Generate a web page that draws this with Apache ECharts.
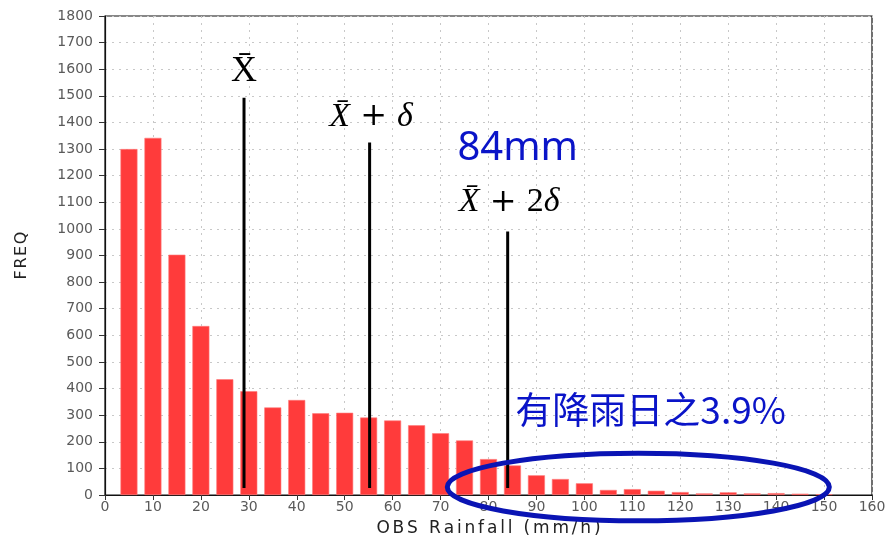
<!DOCTYPE html>
<html><head><meta charset="utf-8">
<script src="https://cdn.jsdelivr.net/npm/echarts@6/dist/echarts.min.js"></script>
<style>html,body{margin:0;padding:0;background:#fff}#c{width:890px;height:542px}</style>
</head><body><div id="c"></div>
<script>
var binCenters = [5,10,15,20,25,30,35,40,45,50,55,60,65,70,75,80,85,90,95,100,105,110,115,120,125,130,135,140,145,150];
var freq = [1300,1342,903,635,435,390,329,357,307,309,291,280,262,232,205,135,111,74,60,44,19,22,16,11,6,10,6,7,5,3];
var xTicks = [0,10,20,30,40,50,60,70,80,90,100,110,120,130,140,150,160];
var yTicks = [0,100,200,300,400,500,600,700,800,900,1000,1100,1200,1300,1400,1500,1600,1700,1800];
var refLines = [
  {x: 29, top: 1493, label: '{u|X\u0304}', labelY: 1590},
  {x: 55.2, top: 1325, label: '{i|X\u0304}{p| + }{i|\u03b4}', labelY: 1420},
  {x: 84, top: 990, label: '{i|X\u0304}{p| + }{u|2}{i|\u03b4}', labelY: 1100}
];
var lineBottom = 26;

var chart = echarts.init(document.getElementById('c'), null, {renderer: 'canvas'});
var series = [{
  type: 'bar',
  data: binCenters.map(function(x, i){ return [x, freq[i]]; }),
  barWidth: 17,
  itemStyle: {color: '#ff3b3b', borderColor: '#ff7a7a', borderWidth: 0.6},
  z: 2
}];
refLines.forEach(function(r){
  series.push({
    type: 'line', data: [[r.x, lineBottom], [r.x, r.top]],
    symbol: 'none', lineStyle: {color: '#000', width: 3}, z: 5, silent: true
  });
});
var labelFont = 'DejaVu Sans, sans-serif';
function spaced(s, sp){ return s.split('').join(sp); }
chart.setOption({
  animation: false,
  grid: {left: 105, right: 18, top: 16, bottom: 45, show: true, borderColor: '#111', borderWidth: 1.2, backgroundColor: '#fff'},
  xAxis: {
    type: 'value', min: 0, max: 160, interval: 10,
    name: spaced('OBS Rainfall (mm/h)', '\u2006'), nameLocation: 'middle', nameGap: 25,
    nameTextStyle: {fontFamily: labelFont, fontSize: 17, color: '#222'},
    axisLine: {onZero: false, lineStyle: {color: '#111', width: 1.2}},
    axisTick: {show: true, length: 5, lineStyle: {color: '#333'}},
    axisLabel: {fontFamily: labelFont, fontSize: 14, color: '#5a5a5a', margin: 5},
    splitLine: {show: true, lineStyle: {color: '#c8c8c8', type: [2, 5], width: 1}}
  },
  yAxis: {
    type: 'value', min: 0, max: 1800, interval: 100,
    name: spaced('FREQ', '\u200a'), nameLocation: 'middle', nameGap: 75,
    nameTextStyle: {fontFamily: labelFont, fontSize: 16, color: '#222'},
    axisLine: {show: true, lineStyle: {color: '#111', width: 1.2}},
    axisTick: {show: true, length: 6, lineStyle: {color: '#333'}},
    axisLabel: {fontFamily: labelFont, fontSize: 14, color: '#5a5a5a', margin: 12,
      formatter: function(v){ return String(v); }},
    splitLine: {show: true, lineStyle: {color: '#c8c8c8', type: [2, 5], width: 1}}
  },
  series: series
});

function px(x, y){ return chart.convertToPixel({gridIndex: 0}, [x, y]); }
var serif = '"Liberation Serif", "DejaVu Serif", serif';
var g = [];
refLines.forEach(function(r, i){
  var p = px(r.x + (i === 0 ? 0 : 0.3), r.labelY);
  var fs = i === 0 ? 36 : 34;
  g.push({type: 'text', x: p[0], y: p[1], z: 10, style: {
    text: r.label, align: 'center', verticalAlign: 'middle',
    rich: {
      u: {fontFamily: serif, fontSize: fs, fill: '#000'},
      i: {fontFamily: serif, fontSize: fs, fontStyle: 'italic', fill: '#000'},
      p: {fontFamily: '"DejaVu Serif", serif', fontSize: fs - 2, fill: '#000'}
    }
  }});
});
var p84 = px(86.1, 1300);
g.push({type: 'text', x: p84[0], y: p84[1], z: 10, style: {
  text: '84mm', fill: '#0a14c8', align: 'center', verticalAlign: 'middle',
  font: '40px "Noto Sans", sans-serif'
}});
var pPct = px(85.6, 318);
g.push({type: 'text', x: pPct[0], y: pPct[1], z: 10, style: {
  text: '有降雨日之3.9%', fill: '#0a14c8', align: 'left', verticalAlign: 'middle',
  font: '37px "Noto Sans CJK TC", "Noto Sans", sans-serif'
}});
var e1 = px(71.4, 157), e2 = px(151.1, -97);
g.push({type: 'ellipse', z: 11, shape: {
  cx: (e1[0] + e2[0]) / 2, cy: (e1[1] + e2[1]) / 2,
  rx: Math.abs(e2[0] - e1[0]) / 2, ry: Math.abs(e2[1] - e1[1]) / 2
}, style: {fill: 'none', stroke: '#0a14b4', lineWidth: 5}});
chart.setOption({graphic: g});
</script>
</body></html>
